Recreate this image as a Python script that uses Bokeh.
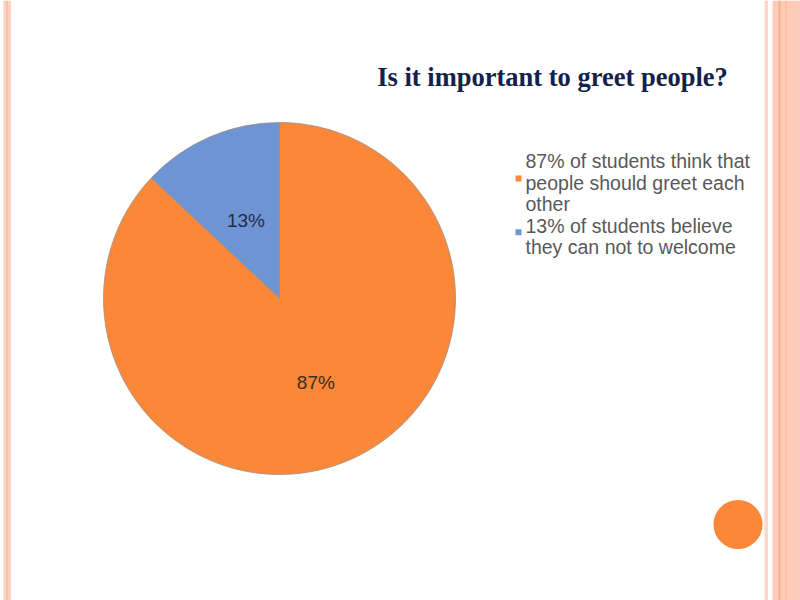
import numpy as np
from bokeh.plotting import figure
from bokeh.models import Range1d, ColumnDataSource
from bokeh.core.properties import value
from bokeh.embed import file_html
from bokeh.resources import INLINE

# chart data
categories = ["think people should greet", "believe they can not welcome"]
shares = [87, 13]
slice_labels = ["87%", "13%"]
colours = ["#FA8838", "#6E94D4"]
label_colours = ["#3C2C22", "#1E2D4E"]
legend_lines = [
    ["87% of students think that", "people should greet each", "other"],
    ["13% of students believe", "they can not to welcome"],
]
title = "Is it important to greet people?"

W, H = 800, 600


def py(y):
    # pixel row on the page -> data y
    return H - y


p = figure(
    width=W,
    height=H,
    x_range=Range1d(0, W),
    y_range=Range1d(0, H),
    toolbar_location=None,
    tools="",
    output_backend="svg",
    min_border=0,
    background_fill_color="white",
    border_fill_color="white",
    outline_line_color=None,
)
p.axis.visible = False
p.grid.visible = False

# slide border strips
p.quad(left=[3, 5.5], right=[10.5, 7.5], bottom=[0, 0], top=[600, 600],
       fill_color=["#FCD2C3", "#F9C0AA"], line_color=None)
p.quad(left=[764, 772], right=[767.5, 800], bottom=[0, 0], top=[600, 600],
       fill_color=["#FBD8CB", "#FDCBB8"], line_color=None)
p.quad(left=[778, 784.5], right=[780, 786], bottom=[0, 0], top=[600, 600],
       fill_color=["#F6AF90", "#F9BDA4"], line_color=None)

# decorative dot
p.circle(x=[737.5], y=[py(524)], radius=24.5, fill_color="#FA8838", line_color=None)

# pie: blue slice first, counter-clockwise from 12 o'clock
cx, cy, r = 279, py(298), 176
fracs = np.array(shares[::-1], dtype=float) / sum(shares)
ends = np.pi / 2 + 2 * np.pi * np.cumsum(fracs)
starts = np.concatenate([[np.pi / 2], ends[:-1]])
src = ColumnDataSource(dict(
    start=starts, end=ends, color=colours[::-1],
))
p.wedge(x=cx, y=cy, radius=r, start_angle="start", end_angle="end",
        fill_color="color", line_color="#9C8F88", line_width=0.8, source=src)

# slice labels at ~0.5 r along the mid angle
mids = (starts + ends) / 2
lr = [0.48, 0.52]
lx = [cx + k * r * np.cos(a) for k, a in zip(lr, mids)]
ly = [cy + k * r * np.sin(a) for k, a in zip(lr, mids)]
p.text(x=lx, y=ly, text=slice_labels[::-1], text_color=label_colours[::-1],
       text_font=value("Liberation Sans"), text_font_size="19px",
       text_align="center", text_baseline="middle")

# title
p.text(x=[552], y=[py(76.5)], text=[title], text_font=value("Liberation Serif"),
       text_font_style="bold", text_font_size="26.5px", text_color="#14224A",
       text_align="center", text_baseline="alphabetic")

# legend
base, step = 160.5, 21.5
row = 0
for lines, col in zip(legend_lines, colours):
    ys = [py(base + step * (row + i)) for i in range(len(lines))]
    p.text(x=[525] * len(lines), y=ys, text=lines, text_font=value("Liberation Sans"),
           text_font_size="19.5px", text_color="#595959", text_baseline="alphabetic")
    p.rect(x=[518], y=[np.mean(ys) + 4], width=6, height=6, fill_color=col, line_color=None)
    row += len(lines)

open("out.html", "w").write(file_html(p, INLINE))
